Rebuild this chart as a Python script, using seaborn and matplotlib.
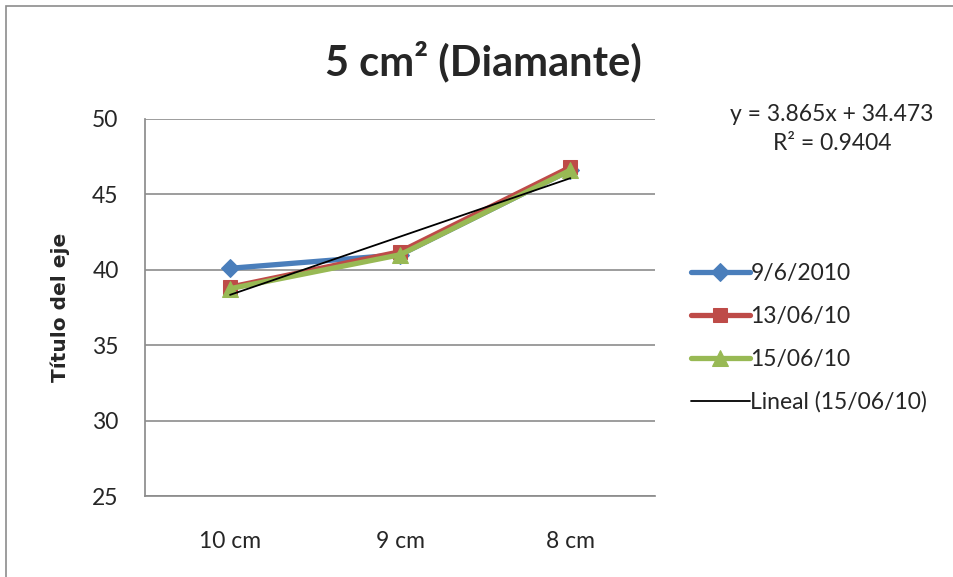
import matplotlib.pyplot as plt
import matplotlib.patches as mpatches
import seaborn as sns

categories = ["10 cm", "9 cm", "8 cm"]
serie_9_6_2010 = [40.1, 41.0, 46.6]
serie_13_06_10 = [38.85, 41.2, 46.8]
serie_15_06_10 = [38.75, 41.0, 46.6]
tendencia_15_06_10 = [38.34, 42.20, 46.07]

labels = ["9/6/2010", "13/06/10", "15/06/10"]
colors = ["#4A7EBB", "#BE4B48", "#98B954"]
markers = ["D", "s", "^"]

sns.set_theme(style="white")
plt.rcParams["font.family"] = ["Lato", "DejaVu Sans"]

fig = plt.figure(figsize=(9.54, 5.77), dpi=100)
ax = fig.add_axes([0.152, 0.140, 0.535, 0.654])

series = [serie_9_6_2010, serie_13_06_10, serie_15_06_10]
sizes = [9, 10, 11]
for vals, lab, col, mk, ms in zip(series, labels, colors, markers, sizes):
    sns.lineplot(x=categories, y=vals, ax=ax, color=col, marker=mk, markersize=ms,
                 markeredgecolor=col, linewidth=3.8, label=lab, sort=False)
sns.lineplot(x=categories, y=tendencia_15_06_10, ax=ax, color="black", linewidth=1.3,
             label="Lineal (15/06/10)", sort=False)

ax.set_ylim(25, 50)
ax.set_yticks([25, 30, 35, 40, 45, 50])
ax.set_xlim(-0.5, 2.5)
ax.yaxis.grid(True, color="#8C8C8C", linewidth=1.2)
ax.set_axisbelow(True)
for s in ["top", "right"]:
    ax.spines[s].set_visible(False)
ax.spines["left"].set_color("#8C8C8C")
ax.spines["bottom"].set_color("#8C8C8C")
ax.tick_params(axis="both", length=0, labelsize=16.5)
ax.tick_params(axis="x", pad=25)
ax.tick_params(axis="y", pad=19)
ax.set_ylabel("Título del eje", fontsize=14.5, fontweight="bold", labelpad=16,
              family=["DejaVu Sans"])
ax.set_xlabel("")

fig.text(0.507, 0.893, "5 cm² (Diamante)", ha="center", va="center",
         fontsize=30, fontweight="bold")
fig.text(0.872, 0.801, "y = 3.865x + 34.473", ha="center", va="center", fontsize=16.5)
fig.text(0.872, 0.752, "R² = 0.9404", ha="center", va="center", fontsize=16.5)

handles, leg_labels = ax.get_legend_handles_labels()
ax.get_legend().remove()
fig.legend(handles, leg_labels, loc="center left", bbox_to_anchor=(0.724, 0.414),
           frameon=False, fontsize=16.5, handlelength=2.6, handletextpad=0.0,
           labelspacing=0.95, borderaxespad=0, borderpad=0)

fig.patches.append(mpatches.Rectangle((6 / 954, -0.1), 1.2, 1.1 - 6 / 577,
                                      transform=fig.transFigure, fill=False,
                                      edgecolor="#8C8C8C", linewidth=1.2))

fig.savefig("out.png", dpi=100)
